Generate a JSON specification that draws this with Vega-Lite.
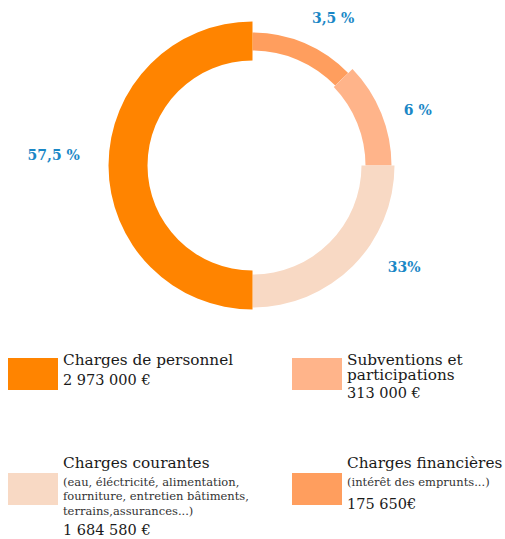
{
  "$schema": "https://vega.github.io/schema/vega-lite/v6.json",
  "padding": 0,
  "spacing": 0,
  "background": "white",
  "config": {"view": {"stroke": null}, "font": "DejaVu Serif"},
  "datasets": {
    "parts": [
      {"cat": "Charges financières", "part": 46, "ordre": 1, "etiquette": "3,5 %"},
      {"cat": "Subventions et participations", "part": 44, "ordre": 2, "etiquette": "6 %"},
      {"cat": "Charges courantes", "part": 90, "ordre": 3, "etiquette": "33%"},
      {"cat": "Charges de personnel", "part": 180, "ordre": 4, "etiquette": "57,5 %"}
    ],
    "legende": [
      {"cat": "Charges de personnel", "col": "g", "blk": "haut", "ln": 0, "kind": "titre", "texte": "Charges de personnel"},
      {"cat": "Charges de personnel", "col": "g", "blk": "haut", "ln": 1, "kind": "montant", "texte": "2 973 000 €"},
      {"cat": "Subventions et participations", "col": "d", "blk": "haut", "ln": 0, "kind": "titre", "texte": "Subventions et"},
      {"cat": "Subventions et participations", "col": "d", "blk": "haut", "ln": 1, "kind": "titre", "texte": "participations"},
      {"cat": "Subventions et participations", "col": "d", "blk": "haut", "ln": 2, "kind": "montant", "texte": "313 000 €"},
      {"cat": "Charges courantes", "col": "g", "blk": "bas", "ln": 0, "kind": "titre", "texte": "Charges courantes"},
      {"cat": "Charges courantes", "col": "g", "blk": "bas", "ln": 1, "kind": "detail", "texte": "(eau, éléctricité, alimentation,"},
      {"cat": "Charges courantes", "col": "g", "blk": "bas", "ln": 2, "kind": "detail", "texte": "fourniture, entretien bâtiments,"},
      {"cat": "Charges courantes", "col": "g", "blk": "bas", "ln": 3, "kind": "detail", "texte": "terrains,assurances...)"},
      {"cat": "Charges courantes", "col": "g", "blk": "bas", "ln": 4, "kind": "montant", "texte": "1 684 580 €"},
      {"cat": "Charges financières", "col": "d", "blk": "bas", "ln": 0, "kind": "titre", "texte": "Charges financières"},
      {"cat": "Charges financières", "col": "d", "blk": "bas", "ln": 1, "kind": "detail", "texte": "(intérêt des emprunts...)"},
      {"cat": "Charges financières", "col": "d", "blk": "bas", "ln": 2, "kind": "montant", "texte": "175 650€"}
    ]
  },
  "vconcat": [
    {
      "width": 505,
      "height": 331,
      "data": {"name": "parts"},
      "layer": [
        {
          "encoding": {
            "theta": {"field": "part", "type": "quantitative", "stack": true},
            "order": {"field": "ordre", "type": "quantitative"},
            "color": {
              "field": "cat", "type": "nominal", "legend": null,
              "scale": {
                "domain": ["Charges de personnel", "Subventions et participations", "Charges courantes", "Charges financières"],
                "range": ["#ff8400", "#ffb48a", "#f8d9c4", "#ff9e5e"]
              }
            }
          },
          "layer": [
            {"mark": {"type": "arc", "outerRadius": 133, "innerRadius": 115},
             "encoding": {"fillOpacity": {"condition": {"test": "datum.cat === 'Charges financières'", "value": 1}, "value": 0}}},
            {"mark": {"type": "arc", "outerRadius": 139, "innerRadius": 113},
             "encoding": {"fillOpacity": {"condition": {"test": "datum.cat === 'Subventions et participations'", "value": 1}, "value": 0}}},
            {"mark": {"type": "arc", "outerRadius": 142, "innerRadius": 109},
             "encoding": {"fillOpacity": {"condition": {"test": "datum.cat === 'Charges courantes'", "value": 1}, "value": 0}}},
            {"mark": {"type": "arc", "outerRadius": 144, "innerRadius": 105},
             "encoding": {"fillOpacity": {"condition": {"test": "datum.cat === 'Charges de personnel'", "value": 1}, "value": 0}}}
          ]
        },
        {
          "transform": [{"stack": "part", "groupby": [], "sort": [{"field": "ordre", "order": "ascending"}], "as": ["t0", "t1"]}],
          "encoding": {
            "theta": {"field": "t0", "type": "quantitative", "stack": null},
            "text": {"field": "etiquette", "type": "nominal"}
          },
          "layer": [
            {"transform": [{"filter": "datum.cat === 'Charges financières'"}],
             "mark": {"type": "text", "radius": 167, "thetaOffset": 0.504, "fontWeight": "bold", "fontSize": 14, "fill": "#1a87c6", "align": "center", "baseline": "middle"}},
            {"transform": [{"filter": "datum.cat === 'Subventions et participations'"}],
             "mark": {"type": "text", "radius": 174, "thetaOffset": 0.449, "fontWeight": "bold", "fontSize": 14, "fill": "#1a87c6", "align": "center", "baseline": "middle"}},
            {"transform": [{"filter": "datum.cat === 'Charges courantes'"}],
             "mark": {"type": "text", "radius": 183, "thetaOffset": 0.593, "fontWeight": "bold", "fontSize": 14, "fill": "#1a87c6", "align": "center", "baseline": "middle"}},
            {"transform": [{"filter": "datum.cat === 'Charges de personnel'"}],
             "mark": {"type": "text", "radius": 199, "thetaOffset": 1.618, "fontWeight": "bold", "fontSize": 14, "fill": "#1a87c6", "align": "center", "baseline": "middle"}}
          ]
        }
      ]
    },
    {
      "width": 350,
      "height": 201,
      "data": {"name": "legende"},
      "resolve": {"scale": {"y": "independent", "yOffset": "independent"}},
      "encoding": {
        "x": {"field": "col", "type": "nominal", "axis": null,
              "scale": {"type": "band", "domain": ["g", "d"], "paddingInner": 0.7676, "paddingOuter": 0}}
      },
      "layer": [
        {
          "transform": [{"filter": "datum.ln === 0"}],
          "mark": {"type": "rect", "width": 50, "height": 32},
          "encoding": {
            "y": {"field": "blk", "type": "nominal", "axis": null,
                  "scale": {"type": "band", "domain": ["haut", "bas"], "paddingInner": 0.252, "paddingOuter": 0}},
            "color": {
              "field": "cat", "type": "nominal", "legend": null,
              "scale": {
                "domain": ["Charges de personnel", "Subventions et participations", "Charges courantes", "Charges financières"],
                "range": ["#ff8400", "#ffb48a", "#f8d9c4", "#ff9e5e"]
              }
            }
          }
        },
        {
          "transform": [{"filter": "datum.kind === 'titre'"}],
          "mark": {"type": "text", "align": "left", "baseline": "alphabetic", "dx": 30, "dy": 16, "fontSize": 15.3, "fill": "#1a1a1a"},
          "encoding": {
            "y": {"field": "blk", "type": "nominal", "axis": null,
                  "scale": {"type": "band", "domain": ["haut", "bas"], "paddingInner": 0.0485, "paddingOuter": 0}},
            "yOffset": {"field": "ln", "type": "ordinal", "scale": {"type": "band", "domain": [0, 1, 2, 3, 4], "paddingOuter": 0.661, "paddingInner": 0}},
            "text": {"field": "texte", "type": "nominal"}
          }
        },
        {
          "transform": [{"filter": "datum.kind === 'detail'"}],
          "mark": {"type": "text", "align": "left", "baseline": "alphabetic", "dx": 30, "dy": 17.5, "fontSize": 11.5, "fill": "#333333"},
          "encoding": {
            "y": {"field": "blk", "type": "nominal", "axis": null,
                  "scale": {"type": "band", "domain": ["haut", "bas"], "paddingInner": 0.0485, "paddingOuter": 0}},
            "yOffset": {"field": "ln", "type": "ordinal", "scale": {"type": "band", "domain": [0, 1, 2, 3, 4], "paddingOuter": 0.879, "paddingInner": 0}},
            "text": {"field": "texte", "type": "nominal"}
          }
        },
        {
          "transform": [{"filter": "datum.kind === 'montant'"}],
          "mark": {"type": "text", "align": "left", "baseline": "alphabetic", "dx": 30, "dy": 21.9, "fontSize": 14.5, "fill": "#1a1a1a"},
          "encoding": {
            "y": {"field": "blk", "type": "nominal", "axis": null,
                  "scale": {"type": "band", "domain": ["haut", "bas"], "paddingInner": 0.2013, "paddingOuter": 0}},
            "yOffset": {"field": "ln", "type": "ordinal", "scale": {"type": "band", "domain": [0, 1, 2, 3, 4], "paddingOuter": 1.557, "paddingInner": 0}},
            "text": {"field": "texte", "type": "nominal"}
          }
        }
      ]
    }
  ]
}
